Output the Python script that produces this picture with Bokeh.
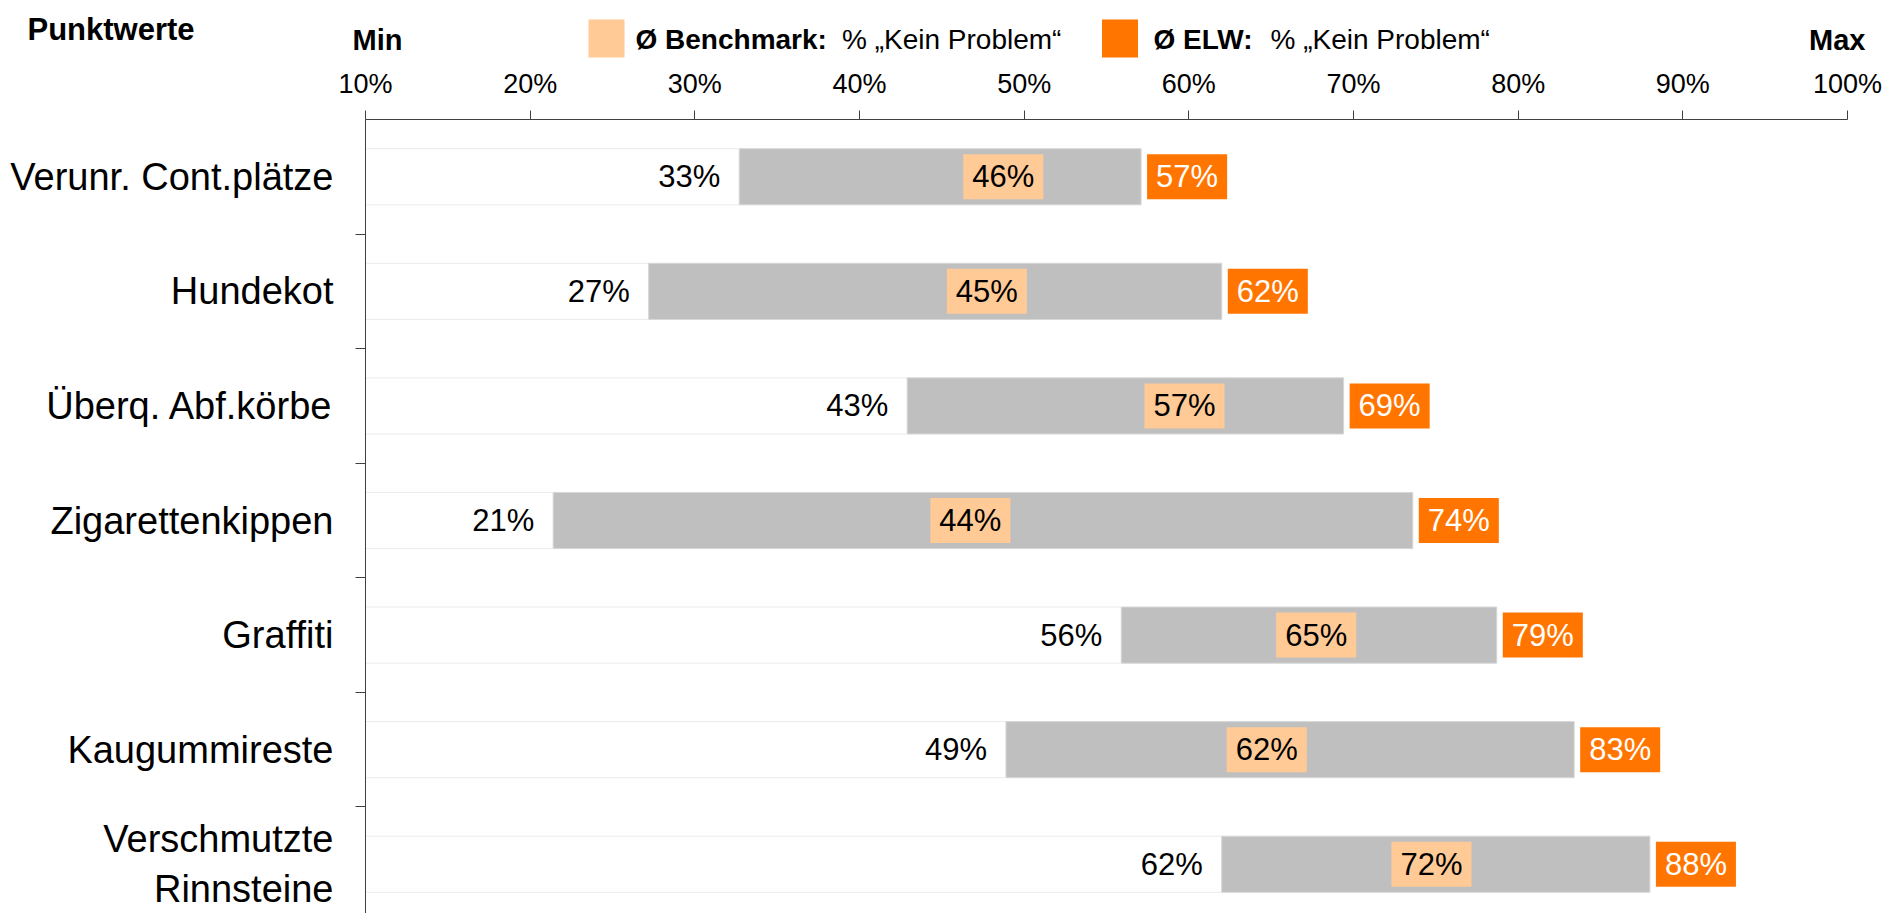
from bokeh.plotting import figure
from bokeh.models import Range1d, FixedTicker, PrintfTickFormatter, ColumnDataSource
from bokeh.core.properties import value
from bokeh.embed import file_html
from bokeh.resources import INLINE

# ---- data ----
categories = ["Verunr. Cont.plätze", "Hundekot", "Überq. Abf.körbe", "Zigarettenkippen",
              "Graffiti", "Kaugummireste", "Verschmutzte\nRinnsteine"]
min_values = [32.7, 27.2, 42.9, 21.4, 55.9, 48.9, 62.0]
benchmark_values = [46, 45, 57, 44, 65, 62, 72]
elw_values = [57.1, 62.0, 69.4, 73.6, 78.7, 83.4, 88.0]
x_ticks = [10, 20, 30, 40, 50, 60, 70, 80, 90, 100]

FONT = "Liberation Sans"
W = 1885
HEAD_H = 65
MAIN_H = 848

# ---- header figure: title, Min/Max, legend ----
h = figure(width=W, height=HEAD_H, x_range=Range1d(0, W), y_range=Range1d(HEAD_H, 0),
           x_axis_type=None, y_axis_type=None, output_backend="svg", toolbar_location=None,
           min_border=0)
h.outline_line_color = None
h.grid.visible = False


def htext(x, y, text, size, bold=False, align="left"):
    h.text(x=[x], y=[y], text=[text], text_font=value(FONT), text_font_size=size,
           text_font_style="bold" if bold else "normal", text_baseline="middle",
           text_align=align, text_color="black")


htext(27, 29, "Punktwerte", "31px", bold=True)
htext(352, 39, "Min", "29px", bold=True)
htext(1865, 39, "Max", "29px", bold=True, align="right")
h.rect(x=[606, 1119.5], y=[38, 38], width=36, height=38,
       fill_color=["#FFCA96", "#FF7500"], line_color=None)
htext(635, 39, "Ø Benchmark:", "28px", bold=True)
htext(841.5, 39, "% „Kein Problem“", "28px")
htext(1153, 39, "Ø ELW:", "28px", bold=True)
htext(1270, 39, "% „Kein Problem“", "28px")

# ---- main chart ----
idx = list(range(len(categories)))
src = ColumnDataSource(dict(
    y=idx,
    mn=min_values,
    bm=benchmark_values,
    mx=elw_values,
    mn_t=[f"{round(v)}%" for v in min_values],
    bm_t=[f"{round(v)}%" for v in benchmark_values],
    mx_t=[f"{round(v)}%" for v in elw_values],
))

p = figure(width=W, height=MAIN_H, x_range=Range1d(x_ticks[0], x_ticks[-1]),
           y_range=Range1d(6.43, -0.5), x_axis_location="above",
           output_backend="svg", toolbar_location=None,
           min_border_left=365, min_border_right=38, min_border_top=44, min_border_bottom=0)
p.outline_line_color = None
p.grid.visible = False

p.hbar(y="y", left=x_ticks[0], right="mn", height=0.49, source=src,
       fill_color="white", line_color="#EBEBEB", line_width=1)
p.hbar(y="y", left="mn", right="mx", height=0.49, source=src,
       fill_color="#BFBFBF", line_color="#D6D6D6", line_width=1)

p.text(x="mn", y="y", text="mn_t", source=src, text_font=value(FONT), text_font_size="31px",
       text_align="right", text_baseline="middle", x_offset=-19, text_color="black")
p.text(x="bm", y="y", text="bm_t", source=src, text_font=value(FONT), text_font_size="31px",
       text_align="left", text_baseline="middle", x_offset=5, text_color="black",
       background_fill_color="#FFCA96", padding=(9, 5))
p.text(x="mx", y="y", text="mx_t", source=src, text_font=value(FONT), text_font_size="31px",
       text_align="left", text_baseline="middle", x_offset=6, text_color="white",
       background_fill_color="#FF7500", padding=(9, 5))

xa = p.xaxis[0]
xa.ticker = FixedTicker(ticks=x_ticks)
xa.formatter = PrintfTickFormatter(format="%d%%")
xa.major_tick_in = 0
xa.major_tick_out = 9
xa.minor_tick_out = 0
xa.minor_tick_in = 0
xa.axis_line_color = "#404040"
xa.major_tick_line_color = "#404040"
xa.major_label_text_font = FONT
xa.major_label_text_font_size = "27px"
xa.major_label_text_color = "black"
xa.major_label_standoff = 12

ya = p.yaxis[0]
ya.ticker = FixedTicker(ticks=idx, minor_ticks=[i + 0.5 for i in idx[:-1]])
ya.major_label_overrides = {i: c for i, c in zip(idx, categories)}
ya.major_tick_in = 0
ya.major_tick_out = 0
ya.minor_tick_in = 0
ya.minor_tick_out = 10
ya.minor_tick_line_color = "#404040"
ya.axis_line_color = "#404040"
ya.major_label_text_font = FONT
ya.major_label_text_font_size = "38px"
ya.major_label_text_color = "black"
ya.major_label_standoff = 22

open("out.html", "w").write(file_html([h, p], INLINE))
